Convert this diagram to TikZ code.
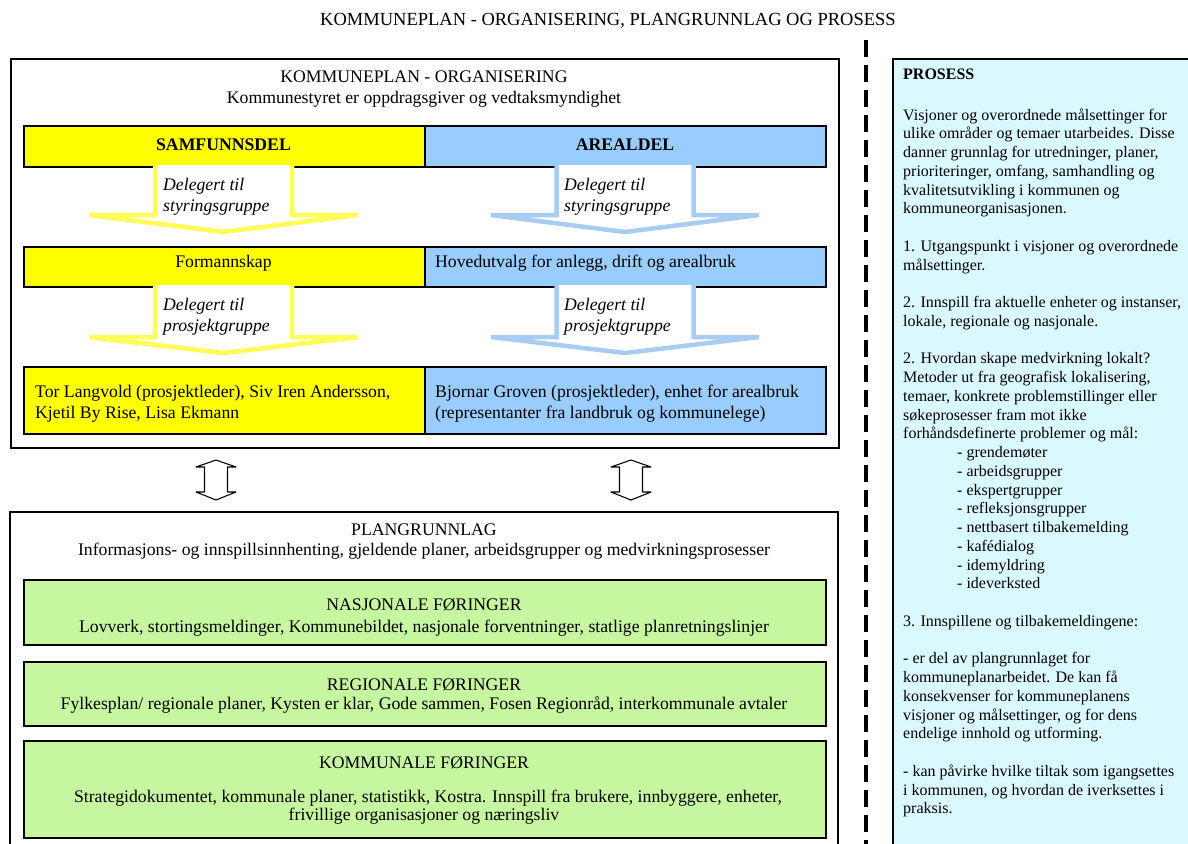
\documentclass[tikz,border=0pt]{standalone}
\usepackage{fontspec}
\setmainfont{Liberation Serif}
\newcommand\fL{\fontsize{17.7}{21.5}\selectfont}
\newcommand\fP{\fontsize{16}{18.75}\selectfont}
\newcommand\fT{\fontsize{18.5}{22}\selectfont}
\definecolor{cYel}{HTML}{FFFF00}
\definecolor{cBlu}{HTML}{99CCFF}
\definecolor{cGrn}{HTML}{C6F7A0}
\definecolor{cPro}{HTML}{DAF9FF}
\definecolor{cYarr}{HTML}{FFFF55}
\definecolor{cBarr}{HTML}{A8CCF2}
\newcommand\DArrow[5]{%
  \fill[white] ({#1-68.5},#2) -- ({#1-68.5},#3) -- ({#1-134},#3) -- (#1,#4) -- ({#1+134},#3) -- ({#1+68.5},#3) -- ({#1+68.5},#2) -- cycle;
  \draw[#5] ({#1-68.5},#2) -- ({#1-68.5},#3) -- ({#1-134},#3) -- (#1,#4) -- ({#1+134},#3) -- ({#1+68.5},#3) -- ({#1+68.5},#2);}
\newcommand\UDArrow[1]{%
  \draw[dblarrow] (#1,460) -- ({#1+20},467) -- ({#1+11.5},467) -- ({#1+11.5},492) -- ({#1+20},492) -- (#1,500) -- ({#1-20},492) -- ({#1-11.5},492) -- ({#1-11.5},467) -- ({#1-20},467) -- cycle;}
\begin{document}
\begin{tikzpicture}[x=1pt,y=-1pt,
  frame/.style={draw=black, line width=2pt},
  barbox/.style={draw=black, line width=1.8pt, inner sep=0pt, anchor=north west},
  yelbox/.style={barbox, fill=cYel},
  blubox/.style={barbox, fill=cBlu},
  grnbox/.style={barbox, fill=cGrn},
  ltxt/.style={font=\fL, inner sep=0pt},
  ptxt/.style={font=\fP, inner sep=0pt},
  yarrow/.style={draw=cYarr, line width=4.5pt},
  barrow/.style={draw=cBarr, line width=4.5pt},
  dblarrow/.style={draw=black, line width=1.1pt, fill=white, line join=round},
]
\path[use as bounding box] (0,0) rectangle (1188,843);
\clip (0,0) rectangle (1188,843);
\fill[white] (0,0) rectangle (1188,843);

% title
\node[font=\fT, inner sep=0pt, anchor=base] (title) at (608,26) {KOMMUNEPLAN - ORGANISERING, PLANGRUNNLAG OG PROSESS};

% organisation frame
\node[frame, inner sep=0pt, anchor=north west, minimum width=828pt, minimum height=389pt] (org) at (10,58) {};
\node[ltxt, anchor=base] (orgt) at (424,82) {KOMMUNEPLAN - ORGANISERING};
\node[ltxt, anchor=base] (orgs) at (424,103) {Kommunestyret er oppdragsgiver og vedtaksmyndighet};

% row 1
\node[yelbox, minimum width=401pt, minimum height=41pt] (samf) at (23,125) {};
\node[blubox, minimum width=401pt, minimum height=41pt] (areal) at (424,125) {};
\node[ltxt, anchor=base] (samft) at (223.5,150) {\textbf{SAMFUNNSDEL}};
\node[ltxt, anchor=base] (arealt) at (625,150) {\textbf{AREALDEL}};

% row 2
\node[yelbox, minimum width=401pt, minimum height=40pt] (form) at (23,246) {};
\node[blubox, minimum width=401pt, minimum height=40pt] (hov) at (424,246) {};
\node[ltxt, anchor=base] (formt) at (223.5,267) {Formannskap};
\node[ltxt, anchor=base west] (hovt) at (435,267) {Hovedutvalg for anlegg, drift og arealbruk};

% row 3
\node[yelbox, minimum width=401pt, minimum height=67pt] (tor) at (23,366) {};
\node[blubox, minimum width=401pt, minimum height=67pt] (bjo) at (424,366) {};
\node[ltxt, anchor=base west] (tort) at (35,397) {\begin{tabular}[t]{@{}l@{}}Tor Langvold (prosjektleder), Siv Iren Andersson,\\Kjetil By Rise, Lisa Ekmann\end{tabular}};
\node[ltxt, anchor=base west] (bjot) at (435,397) {\begin{tabular}[t]{@{}l@{}}Bjornar Groven (prosjektleder), enhet for arealbruk\\(representanter fra landbruk og kommunelege)\end{tabular}};

% delegation arrows
\DArrow{223.5}{165}{215}{232}{yarrow}
\DArrow{625}{165}{215}{232}{barrow}
\DArrow{223.5}{285}{337}{353}{yarrow}
\DArrow{625}{285}{337}{353}{barrow}
\node[ltxt, anchor=base west] (d1) at (163,190) {\itshape\begin{tabular}[t]{@{}l@{}}Delegert til\\styringsgruppe\end{tabular}};
\node[ltxt, anchor=base west] (d2) at (564,190) {\itshape\begin{tabular}[t]{@{}l@{}}Delegert til\\styringsgruppe\end{tabular}};
\node[ltxt, anchor=base west] (d3) at (163,310) {\itshape\begin{tabular}[t]{@{}l@{}}Delegert til\\prosjektgruppe\end{tabular}};
\node[ltxt, anchor=base west] (d4) at (564,310) {\itshape\begin{tabular}[t]{@{}l@{}}Delegert til\\prosjektgruppe\end{tabular}};

% up-down arrows
\UDArrow{216}
\UDArrow{631}

% plangrunnlag frame
\draw[frame] (10,880) -- (10,512) -- (838,512) -- (838,880);
\node[ltxt, anchor=base] (plant) at (424,535) {PLANGRUNNLAG};
\node[ltxt, anchor=base] (plans) at (424,555) {Informasjons- og innspillsinnhenting, gjeldende planer, arbeidsgrupper og medvirkningsprosesser};

\node[grnbox, minimum width=802pt, minimum height=65pt] (nas) at (23,579) {};
\node[ltxt, anchor=base] (nast) at (424,610) {NASJONALE FØRINGER};
\node[ltxt, anchor=base] (nass) at (424,632) {Lovverk, stortingsmeldinger, Kommunebildet, nasjonale forventninger, statlige planretningslinjer};

\node[grnbox, minimum width=802pt, minimum height=64pt] (reg) at (23,661) {};
\node[ltxt, anchor=base] (regt) at (424,690) {REGIONALE FØRINGER};
\node[ltxt, anchor=base] (regs) at (424,709) {Fylkesplan/ regionale planer, Kysten er klar, Gode sammen, Fosen Regionråd, interkommunale avtaler};

\node[grnbox, minimum width=802pt, minimum height=97pt] (kom) at (23,740) {};
\node[ltxt, anchor=base] (komt) at (424,768) {KOMMUNALE FØRINGER};
\node[ltxt, anchor=base] (koms) at (428,802) {Strategidokumentet, kommunale planer, statistikk, Kostra. Innspill fra brukere, innbyggere, enheter,};
\node[ltxt, anchor=base] (koms2) at (424,820) {frivillige organisasjoner og næringsliv};

% divider
\draw[line width=4pt, dash pattern=on 17pt off 8pt] (866,40) -- (866,850);

% prosess
\node[frame, fill=cPro, inner sep=0pt, anchor=north west, minimum width=320pt, minimum height=820pt] (pros) at (892,58) {};
\node[ptxt, anchor=base west] (prost) at (903,80) {\textbf{PROSESS}};
\node[ptxt, anchor=base west] (prosb) at (903,120) {\begin{tabular}[t]{@{}l@{}}
Visjoner og overordnede målsettinger for\\
ulike områder og temaer utarbeides. Disse\\
danner grunnlag for utredninger, planer,\\
prioriteringer, omfang, samhandling og\\
kvalitetsutvikling i kommunen og\\
kommuneorganisasjonen.\\
\\
1. Utgangspunkt i visjoner og overordnede\\
målsettinger.\\
\\
2. Innspill fra aktuelle enheter og instanser,\\
lokale, regionale og nasjonale.\\
\\
2. Hvordan skape medvirkning lokalt?\\
Metoder ut fra geografisk lokalisering,\\
temaer, konkrete problemstillinger eller\\
søkeprosesser fram mot ikke\\
forhåndsdefinerte problemer og mål:\\
\hspace*{54pt}- grendemøter\\
\hspace*{54pt}- arbeidsgrupper\\
\hspace*{54pt}- ekspertgrupper\\
\hspace*{54pt}- refleksjonsgrupper\\
\hspace*{54pt}- nettbasert tilbakemelding\\
\hspace*{54pt}- kafédialog\\
\hspace*{54pt}- idemyldring\\
\hspace*{54pt}- ideverksted\\
\\
3. Innspillene og tilbakemeldingene:\\
\\
- er del av plangrunnlaget for\\
kommuneplanarbeidet. De kan få\\
konsekvenser for kommuneplanens\\
visjoner og målsettinger, og for dens\\
endelige innhold og utforming.\\
\\
- kan påvirke hvilke tiltak som igangsettes\\
i kommunen, og hvordan de iverksettes i\\
praksis.
\end{tabular}};
\end{tikzpicture}
\end{document}
